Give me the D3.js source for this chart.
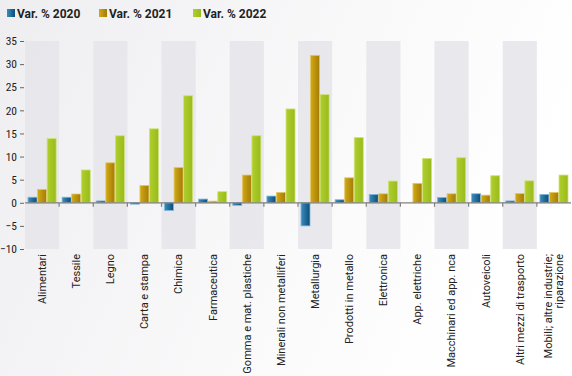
<!DOCTYPE html>
<html><head><meta charset="utf-8">
<script src="https://cdn.jsdelivr.net/npm/d3@7"></script>
<style>body{margin:0;padding:0;overflow:hidden;}svg{display:block;}</style>
</head><body>
<script>
const categories = ["Alimentari","Tessile","Legno","Carta e stampa","Chimica","Farmaceutica","Gomma e mat. plastiche","Minerali non metalliferi","Metallurgia","Prodotti in metallo","Elettronica","App. elettriche","Macchinari ed app. nca","Autoveicoli","Altri mezzi di trasporto","Mobili; altre industrie;\nriparazione"];
const seriesNames = ["Var. % 2020","Var. % 2021","Var. % 2022"];
const v2020 = [1.2,1.2,0.4,-0.3,-1.65,0.8,-0.55,1.45,-5.0,0.65,1.8,0,1.15,1.95,0.4,1.8];
const v2021 = [2.9,1.9,8.65,3.75,7.65,0.35,6.0,2.25,31.9,5.4,1.95,4.2,1.95,1.65,2.0,2.25];
const v2022 = [13.9,7.1,14.5,16.0,23.15,2.4,14.5,20.3,23.4,14.1,4.7,9.6,9.75,5.85,4.75,6.0];
const yTicks = [-10,-5,0,5,10,15,20,25,30,35];

const W=572,H=376;
const svg=d3.select("body").append("svg").attr("width",W).attr("height",H);
const defs=svg.append("defs");
const bg=defs.append("linearGradient").attr("id","bg").attr("x1","0").attr("y1","0").attr("x2","1").attr("y2","0.3");
bg.append("stop").attr("offset","0").attr("stop-color","#eeeef1");
bg.append("stop").attr("offset","0.6").attr("stop-color","#f9f9fa");
bg.append("stop").attr("offset","1").attr("stop-color","#ffffff");
svg.append("rect").attr("width",W).attr("height",H).attr("fill","url(#bg)");

const colors=[["#3a8cc0","#0b4d78"],["#d2aa14","#a47a06"],["#b0cf2c","#98ba1c"]];
const edge=["#7fb6d8","#e2c866","#cfe27a"];
colors.forEach((c,i)=>{
  const g=defs.append("linearGradient").attr("id","g"+i).attr("x1","0").attr("x2","1").attr("y1","0").attr("y2","0");
  g.append("stop").attr("offset","0").attr("stop-color",c[0]);
  g.append("stop").attr("offset","1").attr("stop-color",c[1]);
});

const x=d3.scaleBand().domain(categories).range([25,571]).padding(0);
const y=d3.scaleLinear().domain([-10,35]).range([249,41]);
const xs=d3.scaleBand().domain(seriesNames).range([3,x.bandwidth()-3]).paddingInner(0.06);

// bands
svg.append("g").selectAll("rect").data(categories.filter((d,i)=>i%2===0)).join("rect")
  .attr("x",d=>x(d)).attr("width",x.bandwidth()).attr("y",y(35)).attr("height",y(-10)-y(35))
  .attr("fill","#e5e5ea").attr("opacity",0.85);

// y axis
const yAxis=d3.axisLeft(y).tickValues(yTicks).tickSize(4).tickPadding(3);
const ya=svg.append("g").attr("transform","translate(24,0)").call(yAxis);
ya.select(".domain").remove();
ya.selectAll("line").attr("stroke","#666");
ya.selectAll("text").attr("font-family","Roboto, 'Liberation Sans Narrow', sans-serif").attr("font-size",11.5).attr("fill","#222").attr("font-stretch","condensed");

// bars
const data=[v2020,v2021,v2022];
data.forEach((vals,si)=>{
  svg.append("g").selectAll("rect").data(vals).join("rect")
    .attr("x",(d,i)=>x(categories[i])+xs(seriesNames[si]))
    .attr("width",xs.bandwidth())
    .attr("y",d=>y(Math.max(0,d)))
    .attr("height",d=>Math.abs(y(d)-y(0)))
    .attr("fill","url(#g"+si+")")
    .attr("stroke",edge[si]).attr("stroke-width",0.8);
});

// zero line + boundary ticks
svg.append("line").attr("x1",25).attr("x2",571).attr("y1",y(0)).attr("y2",y(0)).attr("stroke","#808080").attr("stroke-width",1.2);
svg.append("g").selectAll("line").data(categories.slice(1)).join("line")
  .attr("x1",d=>x(d)).attr("x2",d=>x(d)).attr("y1",y(0)).attr("y2",y(0)+4).attr("stroke","#808080").attr("stroke-width",1.2);

// x labels
const lab=svg.append("g").selectAll("text").data(categories).join("text")
  .attr("transform",d=>`translate(${x(d)+x.bandwidth()/2},254) rotate(-90)`)
  .attr("text-anchor","end")
  .attr("font-family","Roboto, sans-serif").attr("font-size",11).attr("fill","#222");
lab.each(function(d){
  const lines=d.split("\n");
  const t=d3.select(this);
  lines.forEach((l,k)=>{
    t.append("tspan").attr("x",0).attr("dy",k===0?(lines.length>1?"-0.2em":"0.35em"):"1.0em").text(l);
  });
});

// legend
const lx=[7,99,193];
seriesNames.forEach((s,i)=>{
  svg.append("rect").attr("x",lx[i]).attr("y",9).attr("width",8).attr("height",8).attr("fill","url(#g"+i+")");
  svg.append("text").attr("x",lx[i]+10).attr("y",17.5).text(s)
    .attr("font-family","Roboto, sans-serif").attr("font-weight","bold").attr("font-size",12).attr("fill","#222");
});
</script>
</body></html>
